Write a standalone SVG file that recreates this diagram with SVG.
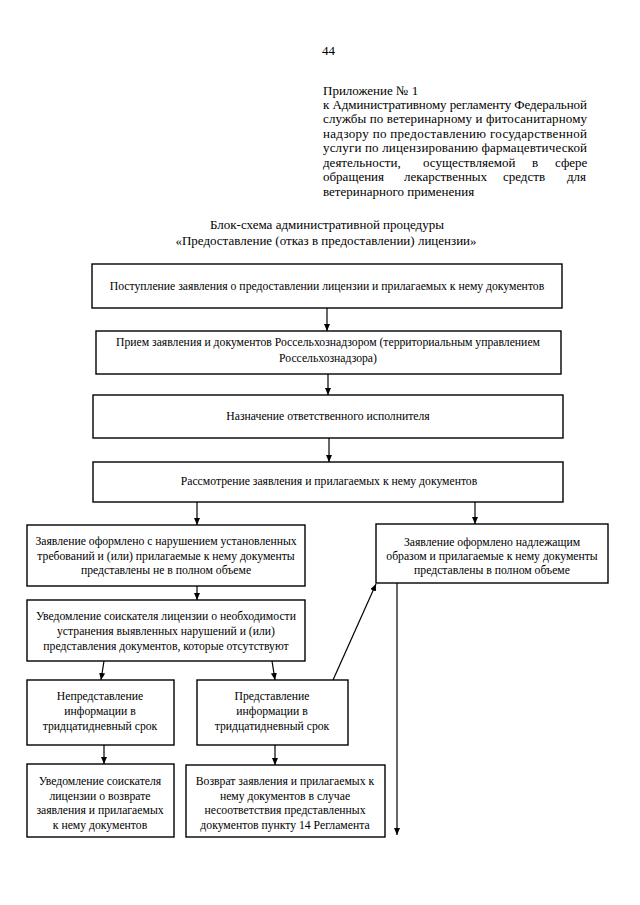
<svg xmlns="http://www.w3.org/2000/svg" width="640" height="905" viewBox="0 0 640 905">
<style>
text{font-family:"Liberation Serif","Times New Roman",serif;fill:#000}
.h{font-size:13px}
.b{font-size:11.7px;text-anchor:middle}
.t{font-size:13px;text-anchor:middle}
rect{fill:#fff;stroke:#000;stroke-width:1.4}
.c line{stroke:#000;stroke-width:1.2;marker-end:url(#a)}
</style>
<defs>
<marker id="a" markerUnits="userSpaceOnUse" markerWidth="8" markerHeight="7" refX="7" refY="3" orient="auto">
<path d="M0,0 L7,3 L0,6 z" fill="#000"/>
</marker>
</defs>
<rect width="640" height="905" style="stroke:none"/>
<g id="header">
<text class="h" x="322" y="55">44</text>
<text class="h" x="323" y="95">Приложение № 1</text>
<text class="h" x="323" y="109" textLength="264" lengthAdjust="spacing">к Административному регламенту Федеральной</text>
<text class="h" x="323" y="123" textLength="264" lengthAdjust="spacing">службы по ветеринарному и фитосанитарному</text>
<text class="h" x="323" y="138" textLength="264" lengthAdjust="spacing">надзору по предоставлению государственной</text>
<text class="h" x="323" y="152" textLength="264" lengthAdjust="spacing">услуги по лицензированию фармацевтической</text>
<text class="h" y="167"><tspan x="323">деятельности,</tspan><tspan x="423">осуществляемой</tspan><tspan x="532">в</tspan><tspan x="555">сфере</tspan></text>
<text class="h" y="181"><tspan x="323">обращения</tspan><tspan x="404">лекарственных</tspan><tspan x="503">средств</tspan><tspan x="567">для</tspan></text>
<text class="h" x="323" y="196">ветеринарного применения</text>
</g>
<g id="title">
<text class="t" x="327" y="229">Блок-схема административной процедуры</text>
<text class="t" x="326" y="245">«Предоставление (отказ в предоставлении) лицензии»</text>
</g>
<g class="c" id="connectors">
<line x1="327" y1="308" x2="327" y2="331"/>
<line x1="328" y1="374" x2="328" y2="395"/>
<line x1="329" y1="438" x2="329" y2="462"/>
<line x1="197" y1="502" x2="197" y2="525"/>
<line x1="475" y1="502" x2="475" y2="524"/>
<line x1="197" y1="586" x2="197" y2="600"/>
<line x1="104" y1="661" x2="101" y2="680"/>
<line x1="272" y1="661" x2="275" y2="680"/>
<line x1="104" y1="745" x2="104" y2="764"/>
<line x1="275" y1="745" x2="275" y2="765"/>
<line x1="333" y1="680" x2="376" y2="584"/>
<line x1="397" y1="583" x2="397" y2="835"/>
</g>
<g id="n1"><rect x="92" y="264" width="470" height="44"/>
<text class="b" x="327" y="290">Поступление заявления о предоставлении лицензии и прилагаемых к нему документов</text></g>
<g id="n2"><rect x="96" y="331" width="465" height="43"/>
<text class="b" x="328" y="346">Прием заявления и документов Россельхознадзором (территориальным управлением</text>
<text class="b" x="328" y="362">Россельхознадзора)</text></g>
<g id="n3"><rect x="93" y="395" width="470" height="43"/>
<text class="b" x="328" y="420">Назначение ответственного исполнителя</text></g>
<g id="n4"><rect x="93" y="462" width="470" height="40"/>
<text class="b" x="329" y="485">Рассмотрение заявления и прилагаемых к нему документов</text></g>
<g id="n5"><rect x="27" y="525" width="278" height="61"/>
<text class="b" x="166" y="545">Заявление оформлено с нарушением установленных</text>
<text class="b" x="166" y="560">требований и (или) прилагаемые к нему документы</text>
<text class="b" x="166" y="574">представлены не в полном объеме</text></g>
<g id="n6"><rect x="27" y="600" width="278" height="61"/>
<text class="b" x="166" y="620">Уведомление соискателя лицензии о необходимости</text>
<text class="b" x="166" y="635">устранения выявленных нарушений и (или)</text>
<text class="b" x="166" y="650">представления документов, которые отсутствуют</text></g>
<g id="n7"><rect x="27" y="680" width="147" height="65"/>
<text class="b" x="100" y="700">Непредставление</text>
<text class="b" x="100" y="715">информации в</text>
<text class="b" x="100" y="730">тридцатидневный срок</text></g>
<g id="n8"><rect x="197" y="680" width="151" height="65"/>
<text class="b" x="272" y="700">Представление</text>
<text class="b" x="272" y="715">информации в</text>
<text class="b" x="272" y="730">тридцатидневный срок</text></g>
<g id="n9"><rect x="27" y="764" width="147" height="73"/>
<text class="b" x="100" y="785">Уведомление соискателя</text>
<text class="b" x="100" y="800">лицензии о возврате</text>
<text class="b" x="100" y="814">заявления и прилагаемых</text>
<text class="b" x="100" y="829">к нему документов</text></g>
<g id="n10"><rect x="186" y="765" width="199" height="72"/>
<text class="b" x="285" y="785">Возврат заявления и прилагаемых к</text>
<text class="b" x="285" y="800">нему документов в случае</text>
<text class="b" x="285" y="814">несоответствия представленных</text>
<text class="b" x="285" y="829">документов пункту 14 Регламента</text></g>
<g id="n11"><rect x="376" y="524" width="232" height="59"/>
<text class="b" x="492" y="546">Заявление оформлено надлежащим</text>
<text class="b" x="492" y="560">образом и прилагаемые к нему документы</text>
<text class="b" x="492" y="574">представлены в полном объеме</text></g>
</svg>
